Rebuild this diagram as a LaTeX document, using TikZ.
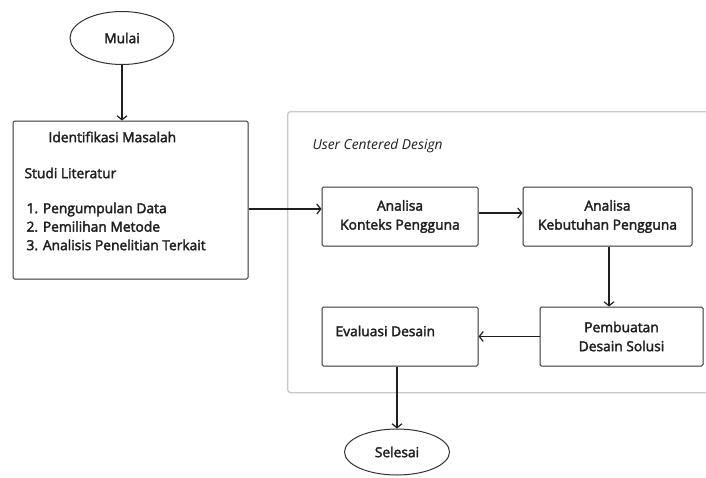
\documentclass[tikz,border=0pt]{standalone}
\usepackage{fontspec}
\setmainfont{Open Sans}[AutoFakeBold=2.5]
\usetikzlibrary{shapes.geometric,arrows.meta,calc}
\begin{document}
\begin{tikzpicture}[x=1pt,y=-1pt,
  every node/.style={font=\fontsize{13.8}{16}\selectfont\bfseries, text=black!88},
  procbox/.style={draw=black!80, line width=1pt, rounded corners=1.5pt, align=center, inner sep=0pt},
  term/.style={draw=black!80, line width=1pt, ellipse, inner sep=0pt},
  groupbox/.style={draw=black!22, line width=1.3pt, rounded corners=3pt},
  arr/.style={draw=black!88, line width=1.2pt, -{Straight Barb[length=4pt,width=10pt,line width=1.2pt]}}
]
\useasboundingbox (0,0) rectangle (706,477);
\fill[white] (0,0) rectangle (706,477);

% group box (extends past the right edge)
\node[groupbox, minimum width=450pt, minimum height=281pt, anchor=north west] (ucd) at (287,111) {};
\node[anchor=west, font=\fontsize{13.8}{16}\selectfont\bfseries\itshape] (ucdlabel) at (309,146) {User Centered Design};

% start
\node[term, minimum width=104pt, minimum height=53pt] (mulai) at (122,38) {Mulai};

% left box
\node[procbox, minimum width=235pt, minimum height=158pt] (leftbox) at (130.5,200) {};
\node[anchor=west] (idm) at (45,137) {Identifikasi Masalah};
\node[anchor=west] (studi) at (21,173) {Studi Literatur};
\node[anchor=west, align=left, font=\fontsize{13.8}{18.5}\selectfont\bfseries] (list) at (23,226.5) {1. Pengumpulan Data\\2. Pemilihan Metode\\3. Analisis Penelitian Terkait};

% process boxes
\node[procbox, minimum width=156pt, minimum height=59pt, font=\fontsize{13.8}{19}\selectfont\bfseries] (konteks) at (400,216.5) {Analisa\\Konteks Pengguna};
\node[procbox, minimum width=169pt, minimum height=59pt, font=\fontsize{13.8}{19}\selectfont\bfseries] (kebutuhan) at (607.5,216.5) {Analisa\\Kebutuhan Pengguna};
\node[procbox, minimum width=163pt, minimum height=59pt, font=\fontsize{13.8}{19}\selectfont\bfseries] (pembuatan) at (621.5,336.5) {Pembuatan\\Desain Solusi};
\node[procbox, minimum width=156pt, minimum height=59pt] (evaluasi) at (400,336.5) {};
\node[anchor=west] (evaltext) at (332,331) {Evaluasi Desain};

% end
\node[term, minimum width=105pt, minimum height=46pt] (selesai) at (397,452) {Selesai};

% connectors
\draw[arr] (mulai.south) -- (mulai.south |- leftbox.north);
\draw[arr] ([yshift=-9pt]leftbox.east) coordinate (a1) -- (konteks.west |- a1);
\draw[arr] ([yshift=3.5pt]konteks.east) coordinate (a2) -- (kebutuhan.west |- a2);
\draw[arr] ([xshift=1.5pt]kebutuhan.south) coordinate (a3) -- (a3 |- pembuatan.north);
\draw[arr] (pembuatan.west) -- (evaluasi.east);
\draw[arr] ([xshift=-3pt]evaluasi.south) coordinate (a4) -- (a4 |- selesai.north);
\end{tikzpicture}
\end{document}
